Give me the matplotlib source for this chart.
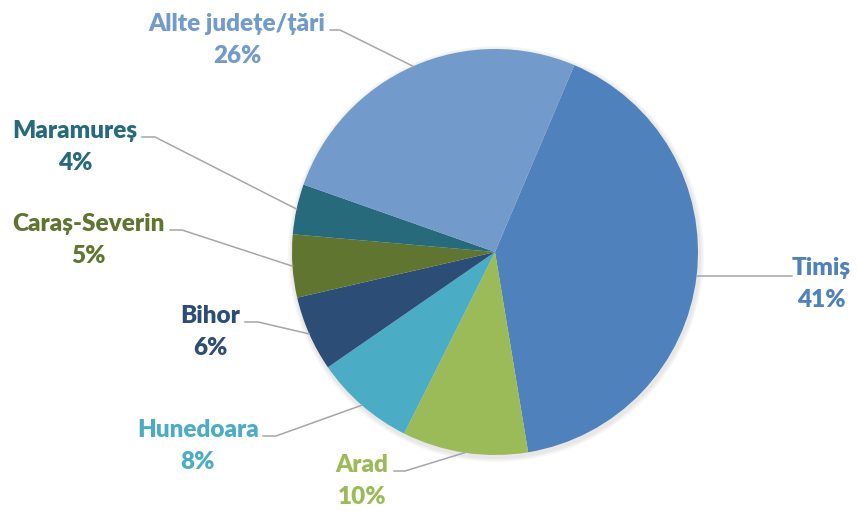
import numpy as np
import matplotlib
matplotlib.use("Agg")
import matplotlib.pyplot as plt
from matplotlib.patches import Circle

# Data
categories = ["Timiș", "Arad", "Hunedoara", "Bihor", "Caraș-Severin", "Maramureș", "Allte județe/țări"]
values = [41, 10, 8, 6, 5, 4, 26]
colors = ["#4F81BD", "#9BBB59", "#4BACC6", "#2C4D75", "#5F7530", "#276A7C", "#729ACA"]

W, H = 857, 511
fig = plt.figure(figsize=(W / 100, H / 100), dpi=100)
ax = fig.add_axes([0, 0, 1, 1])

cx, cy, R = 495, H - 252, 203
start = 67  # degrees, matplotlib convention

# subtle shadow
for i, a in enumerate([0.03, 0.03, 0.03]):
    ax.add_patch(Circle((cx + 1, cy - 2), R + 2 + i * 1.5, color="black", alpha=a, lw=0, zorder=0))

wedges, _ = ax.pie(values, colors=colors, startangle=start, counterclock=False,
                   center=(cx, cy), radius=R, frame=True,
                   wedgeprops=dict(linewidth=0), normalize=True)
ax.set_xlim(0, W)
ax.set_ylim(0, H)
ax.set_aspect("equal")
ax.axis("off")

# label text positions (pixel coords, top-left origin): (text center x, first line center y, side)
label_pos = {
    "Timiș": (821, 268, "right"),
    "Arad": (362, 465, "left"),
    "Hunedoara": (198, 430, "left"),
    "Bihor": (210, 316, "left"),
    "Caraș-Severin": (88, 224, "left"),
    "Maramureș": (75, 131, "left"),
    "Allte județe/țări": (237, 24, "left"),
}
elbow = {
    "Timiș": (792, None),
    "Arad": (394, 405),
    "Hunedoara": (263, 276),
    "Bihor": (245, 258),
    "Caraș-Severin": (170, 182),
    "Maramureș": (142, 155),
    "Allte județe/țări": (330, 340),
}

font = dict(family=["Lato", "DejaVu Sans"], fontweight="heavy", fontsize=17.5)
line_color = "#A6A6A6"

for w, cat, val, col in zip(wedges, categories, values, colors):
    mid = np.deg2rad((w.theta1 + w.theta2) / 2)
    ex, ey = cx + R * np.cos(mid), cy + R * np.sin(mid)
    tx, ty, side = label_pos[cat]
    ax.text(tx, H - ty, cat, color=col, ha="center", va="center", **font)
    ax.text(tx, H - ty - 32, f"{val}%", color=col, ha="center", va="center", **font)
    e1, e2 = elbow[cat]
    ly = H - ty - 6
    if side == "right":
        ax.plot([ex, e1], [ey, ey], color=line_color, lw=1.1, zorder=3)
    else:
        ax.plot([e1, e2, ex], [ly, ly, ey], color=line_color, lw=1.1, zorder=3)

fig.savefig("out.png", dpi=100)
